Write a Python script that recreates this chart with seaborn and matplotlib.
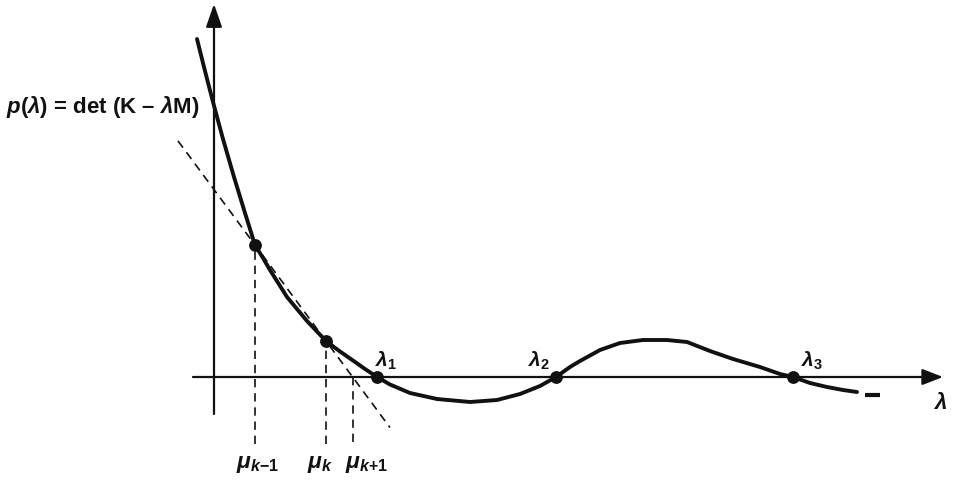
import matplotlib
matplotlib.use("Agg")
import matplotlib.pyplot as plt
import seaborn as sns
import pandas as pd
import numpy as np

# curve p(lambda) (schematic units)
lam = [-0.17, -0.09, -0.01, 0.09, 0.20, 0.31, 0.41, 0.49, 0.56, 0.73, 0.93,
       1.12, 1.26, 1.39, 1.51, 1.63, 1.76, 1.96, 2.23, 2.56, 2.83, 3.06,
       3.26, 3.42, 3.56, 3.66, 3.86, 4.06, 4.29, 4.53, 4.73, 4.96, 5.19,
       5.46, 5.66, 5.79, 5.96, 6.13, 6.29, 6.43]
p_lam = [3.38, 3.06, 2.75, 2.38, 2.00, 1.64, 1.32, 1.19, 1.07, 0.80, 0.56,
         0.36, 0.255, 0.165, 0.08, 0.00, -0.075, -0.16, -0.22, -0.25, -0.23, -0.17,
         -0.09, 0.00, 0.10, 0.16, 0.27, 0.34, 0.37, 0.37, 0.35, 0.26, 0.18,
         0.10, 0.03, 0.00, -0.06, -0.10, -0.13, -0.15]

# iterates mu_{k-1}, mu_k on the curve, and the roots
mu_x = [0.41, 1.12]
mu_y = [1.32, 0.36]
roots = [1.63, 3.42, 5.79]
root_labels = [r"$\lambda_1$", r"$\lambda_2$", r"$\lambda_3$"]
mu_labels = [r"$\mu_{k\mathregular{-1}}$", r"$\mu_k$", r"$\mu_{k\mathregular{+1}}$"]

sns.set_theme(style="white")
plt.rcParams["font.family"] = ["Liberation Sans", "DejaVu Sans"]
plt.rcParams["font.weight"] = "bold"
plt.rcParams["mathtext.fontset"] = "custom"
plt.rcParams["mathtext.rm"] = "Liberation Sans:bold"
plt.rcParams["mathtext.it"] = "Liberation Sans:bold:italic"
plt.rcParams["mathtext.bf"] = "Liberation Sans:bold"

ink = "#111111"
fig = plt.figure(figsize=(9.54, 4.81), dpi=100)
ax = fig.add_axes([0, 0, 1, 1])
ax.set_xlim(-2.14, 7.40)
ax.set_ylim(-1.03, 3.78)
ax.set_axis_off()

# axes with arrows
ax.annotate("", xy=(7.29, 0), xytext=(-0.21, 0),
            arrowprops=dict(arrowstyle="-|>,head_length=0.9,head_width=0.35",
                            lw=1.6, color=ink, mutation_scale=14, shrinkA=0, shrinkB=0))
ax.annotate("", xy=(0, 3.73), xytext=(0, -0.37),
            arrowprops=dict(arrowstyle="-|>,head_length=1.0,head_width=0.35",
                            lw=1.6, color=ink, mutation_scale=14, shrinkA=0, shrinkB=0))

# secant through the two iterates, hits the axis at mu_{k+1}
slope = (mu_y[1] - mu_y[0]) / (mu_x[1] - mu_x[0])
mu_next = mu_x[1] - mu_y[1] / slope
sec_x = np.array([-0.36, 1.76])
sec = pd.DataFrame({"x": sec_x, "y": mu_y[0] + slope * (sec_x - mu_x[0])})
sns.lineplot(data=sec, x="x", y="y", ax=ax, color=ink, lw=1.2,
             linestyle=(0, (5, 3.5)), estimator=None)

# vertical dashed drops
ax.vlines(mu_x, [-0.67, -0.67], mu_y, colors=ink, lw=1.2, linestyles=[(0, (5, 3.5))])
ax.vlines([mu_next], [-0.65], [0], colors=ink, lw=1.2, linestyles=[(0, (5, 3.5))])

# the curve
curve = pd.DataFrame({"lam": lam, "p": p_lam})
sns.lineplot(data=curve, x="lam", y="p", ax=ax, color=ink, lw=2.8,
             estimator=None, sort=False)
ax.plot([6.51, 6.66], [-0.18, -0.18], color=ink, lw=3.0, solid_capstyle="butt")

# dots
pts = pd.DataFrame({"x": mu_x + roots, "y": mu_y + [0, 0, 0]})
sns.scatterplot(data=pts, x="x", y="y", ax=ax, color=ink, s=85,
                edgecolor=ink, linewidth=0, zorder=5)

# labels
ax.text(-0.14, 2.71, r"$p(\lambda)$ = det (K – $\lambda$M)", ha="right", va="center",
        fontsize=16, color=ink, fontweight="bold")
for r, t, dx in zip(roots, root_labels, [0.09, -0.17, 0.19]):
    ax.text(r + dx, 0.17, t, ha="center", va="center", fontsize=15, color=ink)
for x0, t in zip([0.44, 1.06, 1.53], mu_labels):
    ax.text(x0, -0.86, t, ha="center", va="center", fontsize=16.5, color=ink)
ax.text(7.26, -0.26, r"$\lambda$", ha="center", va="center", fontsize=16, color=ink)

ax.set_xlabel("")
ax.set_ylabel("")
fig.savefig("out.png", dpi=100)
plt.close(fig)
